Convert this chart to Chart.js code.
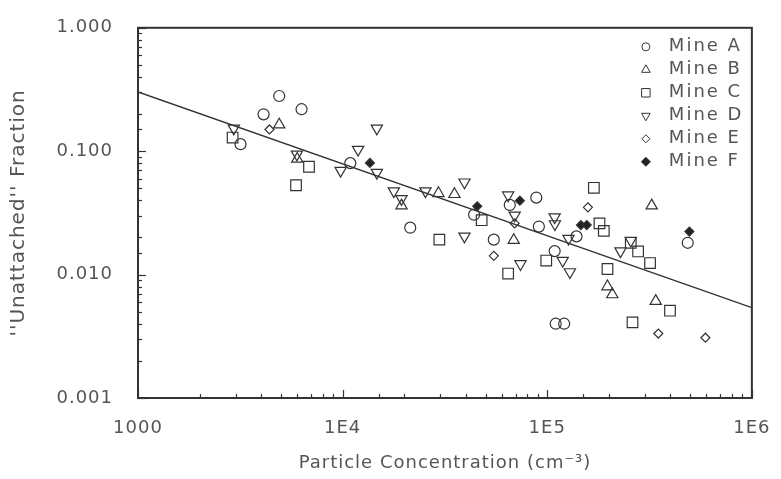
<!DOCTYPE html>
<html>
<head>
<meta charset="utf-8">
<script src="https://cdn.jsdelivr.net/npm/chart.js@4.4.0/dist/chart.umd.min.js"></script>
<style>
    html, body { margin: 0; padding: 0; background: #fff; }
    #wrap { width: 781px; height: 479px; }
</style>
</head>
<body>
<div id="wrap"><canvas id="chart" width="781" height="479"></canvas></div>
<script>
// particle concentration (cm^-3) and "unattached" fraction, one pair of arrays per mine
const mineA_conc = [4900, 4110, 6300, 3170, 10900, 21400, 43900, 54800, 65600, 88400, 91000, 139000, 108700, 121000, 110000, 486000]
const mineA_frac = [0.280, 0.199, 0.219, 0.114, 0.080, 0.024, 0.0306, 0.0192, 0.0367, 0.0421, 0.0245, 0.0204, 0.0155, 0.0040, 0.0040, 0.0181]

const mineB_conc = [4900, 6000, 19400, 29400, 35200, 68600, 324000, 197000, 208000, 339000]
const mineB_frac = [0.164, 0.0865, 0.0362, 0.0456, 0.0448, 0.0190, 0.0362, 0.0080, 0.0069, 0.0061]

const mineC_conc = [2900, 6850, 5920, 29700, 47800, 64400, 98900, 169000, 180000, 189000, 197000, 256000, 278000, 318000, 398000, 261000]
const mineC_frac = [0.129, 0.0748, 0.0530, 0.0192, 0.0276, 0.0102, 0.0130, 0.0505, 0.0260, 0.0226, 0.0111, 0.0181, 0.0154, 0.0124, 0.0051, 0.0041]

const mineD_conc = [2940, 5980, 9780, 14700, 11900, 14700, 17800, 19400, 25400, 39400, 39400, 64400, 69300, 74000, 108700, 109000, 127000, 119000, 129000, 228000, 256000]
const mineD_frac = [0.153, 0.0942, 0.0696, 0.153, 0.103, 0.0671, 0.0475, 0.0411, 0.0475, 0.0560, 0.0204, 0.0440, 0.0302, 0.0122, 0.0292, 0.0257, 0.0196, 0.0130, 0.0105, 0.0155, 0.0189]

const mineE_conc = [4390, 54800, 69300, 158000, 349000, 593000]
const mineE_frac = [0.150, 0.0142, 0.0260, 0.0351, 0.00333, 0.00308]

const mineF_conc = [13600, 45500, 73500, 146000, 156000, 495000]
const mineF_frac = [0.0804, 0.0358, 0.0397, 0.0252, 0.0252, 0.0223]

// power-law fit, end points at the axis limits
const fit_conc = [1000, 1000000]
const fit_frac = [0.302, 0.0054]

const mineLabels = ['Mine A', 'Mine B', 'Mine C', 'Mine D', 'Mine E', 'Mine F']

const xTickValues = [1000, 1e4, 1e5, 1e6]
const xTickLabels = ['1000', '1E4', '1E5', '1E6']
const yTickValues = [0.001, 0.01, 0.1, 1]
const yTickLabels = ['0.001', '0.010', '0.100', '1.000']


let toPoints = (xs, ys) => xs.map((x, i) => ({ x: x, y: ys[i] }))
let isDecade = v => Math.abs(Math.log10(v) - Math.round(Math.log10(v))) < 1e-6

function tickLabel(value, values, labels) {
    let i = values.findIndex(v => Math.abs(Math.log10(v) - Math.log10(value)) < 1e-6)
    return i < 0 ? '' : labels[i]
}

const ink = '#333'
const textColor = '#555'
const fontFamily = '"DejaVu Sans", sans-serif'

// marker look per mine: plot size and the smaller size used in the key
const markers = [
    { pointStyle: 'circle',   radius: 5.5, keyRadius: 4,   rotation: 0,   filled: false },
    { pointStyle: 'triangle', radius: 6.5, keyRadius: 5,   rotation: 0,   filled: false },
    { pointStyle: 'rect',     radius: 7.5, keyRadius: 6,   rotation: 0,   filled: false },
    { pointStyle: 'triangle', radius: 6.5, keyRadius: 5,   rotation: 180, filled: false },
    { pointStyle: 'rectRot',  radius: 4.5, keyRadius: 4,   rotation: 0,   filled: false },
    { pointStyle: 'rectRot',  radius: 4.5, keyRadius: 4.5, rotation: 0,   filled: true }
]

const mineData = [
    toPoints(mineA_conc, mineA_frac),
    toPoints(mineB_conc, mineB_frac),
    toPoints(mineC_conc, mineC_frac),
    toPoints(mineD_conc, mineD_frac),
    toPoints(mineE_conc, mineE_frac),
    toPoints(mineF_conc, mineF_frac)
]

let datasets = mineData.map((points, i) => {
    let m = markers[i]
    return {
        label: mineLabels[i],
        data: points,
        pointStyle: m.pointStyle,
        pointRadius: m.radius,
        pointHoverRadius: m.radius,
        pointRotation: m.rotation,
        pointBorderWidth: 1.2,
        pointBorderColor: ink,
        pointBackgroundColor: m.filled ? '#222' : 'rgba(0,0,0,0)',
        showLine: false,
        keyIndex: i
    }
})

datasets.push({
    label: 'fit',
    data: toPoints(fit_conc, fit_frac),
    showLine: true,
    borderColor: ink,
    borderWidth: 1.5,
    pointRadius: 0,
    pointHoverRadius: 0,
    fill: false
})


// wider letter spacing for all the axis text
const spacedText = {
    id: 'spacedText',
    beforeDraw(chart) {
        if ('letterSpacing' in chart.ctx) chart.ctx.letterSpacing = '1px'
    }
}

// box round the plot, with short inward ticks on the left and bottom
const frameTicks = {
    id: 'frameTicks',
    afterDatasetsDraw(chart) {
        let ctx = chart.ctx
        let area = chart.chartArea
        let xs = chart.scales.x
        let ys = chart.scales.y
        ctx.save()
        ctx.strokeStyle = ink
        ctx.lineWidth = 1.2
        xs.ticks.forEach(t => {
            let px = Math.round(xs.getPixelForValue(t.value)) + 0.5
            let len = isDecade(t.value) ? 8 : 4
            ctx.beginPath()
            ctx.moveTo(px, area.bottom)
            ctx.lineTo(px, area.bottom - len)
            ctx.stroke()
        })
        ys.ticks.forEach(t => {
            let py = Math.round(ys.getPixelForValue(t.value)) + 0.5
            let len = isDecade(t.value) ? 8 : 4
            ctx.beginPath()
            ctx.moveTo(area.left, py)
            ctx.lineTo(area.left + len, py)
            ctx.stroke()
        })
        ctx.lineWidth = 2
        ctx.strokeRect(area.left, area.top, area.right - area.left, area.bottom - area.top)
        ctx.restore()
    }
}

// key in the upper right corner of the plot
const mineKey = {
    id: 'mineKey',
    afterDraw(chart) {
        let ctx = chart.ctx
        let area = chart.chartArea
        let x0 = area.right - 106
        let y0 = area.top + 19
        ctx.save()
        ctx.font = '18px ' + fontFamily
        ctx.textBaseline = 'middle'
        ctx.textAlign = 'left'
        if ('letterSpacing' in ctx) ctx.letterSpacing = '2px'
        chart.data.datasets.forEach(ds => {
            if (ds.keyIndex === undefined) return
            let m = markers[ds.keyIndex]
            let y = y0 + ds.keyIndex * 23
            ctx.strokeStyle = ink
            ctx.fillStyle = m.filled ? '#222' : 'rgba(0,0,0,0)'
            Chart.helpers.drawPoint(ctx, {
                pointStyle: m.pointStyle,
                radius: m.keyRadius,
                rotation: m.rotation,
                borderWidth: 1.2
            }, x0, y)
            ctx.fillStyle = textColor
            ctx.fillText(ds.label, x0 + 23, y)
        })
        ctx.restore()
    }
}


let chart = new Chart(document.getElementById('chart'), {
    type: 'scatter',
    data: { datasets: datasets },
    options: {
        responsive: false,
        animation: false,
        devicePixelRatio: 1,
        layout: { padding: { top: 17, right: 26, left: 0, bottom: 0 } },
        plugins: {
            legend: { display: false },
            tooltip: { enabled: false }
        },
        scales: {
            x: {
                type: 'logarithmic',
                position: 'bottom',
                min: 1000,
                max: 1000000,
                grid: { display: false },
                border: { display: false },
                ticks: {
                    autoSkip: false,
                    maxRotation: 0,
                    padding: 12,
                    color: textColor,
                    font: { family: fontFamily, size: 18 },
                    callback: value => tickLabel(value, xTickValues, xTickLabels)
                },
                title: {
                    display: true,
                    text: 'Particle Concentration (cm⁻³)',
                    color: textColor,
                    font: { family: fontFamily, size: 18 },
                    padding: { top: 0, bottom: 5 }
                },
                afterFit: scale => { scale.height = 81 }
            },
            y: {
                type: 'logarithmic',
                position: 'left',
                min: 0.001,
                max: 1,
                grid: { display: false },
                border: { display: false },
                ticks: {
                    autoSkip: false,
                    padding: 17,
                    color: textColor,
                    font: { family: fontFamily, size: 18 },
                    callback: value => tickLabel(value, yTickValues, yTickLabels)
                },
                title: {
                    display: true,
                    text: "''Unattached'' Fraction",
                    color: textColor,
                    font: { family: fontFamily, size: 20 },
                    padding: { top: 7, bottom: 0 }
                },
                afterFit: scale => { scale.width = 138 }
            }
        }
    },
    plugins: [spacedText, frameTicks, mineKey]
})
</script>
</body>
</html>
